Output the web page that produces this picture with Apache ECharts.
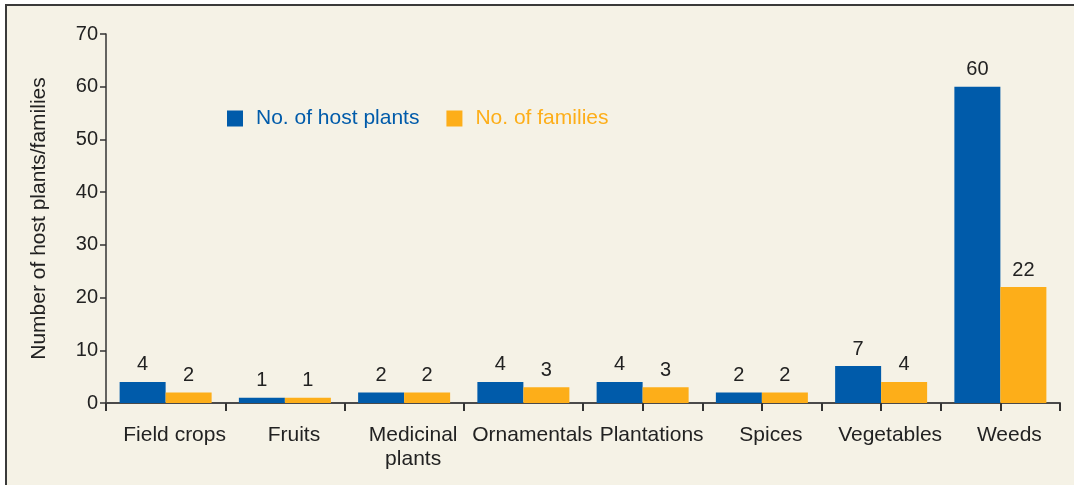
<!DOCTYPE html>
<html>
<head>
<meta charset="utf-8">
<script src="https://cdn.jsdelivr.net/npm/echarts@6/dist/echarts.min.js"></script>
<style>
  html, body { margin: 0; padding: 0; background: #ffffff; }
  #chart {
    position: absolute;
    left: 5px;
    top: 4px;
    width: 1069px;
    height: 481px;
    box-sizing: border-box;
    border-left: 2px solid #3a3a3a;
    border-top: 2px solid #3a3a3a;
  }
</style>
</head>
<body>
<div id="chart"></div>
<script>
const categories = ['Field crops', 'Fruits', 'Medicinal\nplants', 'Ornamentals', 'Plantations', 'Spices', 'Vegetables', 'Weeds']
const hostPlants = [4, 1, 2, 4, 4, 2, 7, 60]
const families = [2, 1, 2, 3, 3, 2, 4, 22]
const seriesNames = ['No. of host plants', 'No. of families']

const BLUE = '#005baa'
const ORANGE = '#fdae19'
const INK = '#222222'
const FONT = '"Liberation Sans", Arial, Helvetica, sans-serif'

const chart = echarts.init(document.getElementById('chart'))

const valueLabel = {
  show: true,
  position: 'top',
  distance: 7,
  color: INK,
  fontSize: 20,
  fontFamily: FONT,
}

const option = {
  backgroundColor: '#f5f2e6',
  animation: false,
  textStyle: { fontFamily: FONT },
  legend: {
    left: 215,
    top: 97,
    itemWidth: 16,
    itemHeight: 16,
    itemGap: 27,
    icon: 'rect',
    textStyle: { fontSize: 21, fontFamily: FONT, padding: [0, 0, 0, 8] },
    data: [
      { name: seriesNames[0], textStyle: { color: BLUE } },
      { name: seriesNames[1], textStyle: { color: ORANGE } },
    ],
  },
  grid: {
    left: 99,
    right: 14,
    top: 28,
    bottom: 82,
  },
  xAxis: [
    {
      type: 'category',
      data: categories,
      axisLine: { lineStyle: { color: '#4a4a4a', width: 2 } },
      axisTick: { show: true, interval: 0, length: 8, lineStyle: { color: '#333', width: 2 } },
      axisLabel: {
        interval: 0,
        color: INK,
        fontSize: 21,
        fontFamily: FONT,
        margin: 20,
        lineHeight: 24,
        padding: [0, 0, 0, 18],
      },
    },
    {
      type: 'category',
      data: categories,
      position: 'bottom',
      axisLine: { show: false },
      axisLabel: { show: false },
      axisTick: {
        show: true,
        alignWithLabel: true,
        interval: (i) => i >= 4,
        length: 8,
        lineStyle: { color: '#333', width: 2 },
      },
    },
  ],
  yAxis: {
    type: 'value',
    min: 0,
    max: 70,
    interval: 10,
    name: 'Number of host plants/families',
    nameLocation: 'middle',
    nameGap: 56,
    nameTextStyle: { color: INK, fontSize: 21, fontFamily: FONT },
    axisLine: { show: true, lineStyle: { color: '#333', width: 1.5 } },
    axisTick: { show: true, length: 6, lineStyle: { color: '#333', width: 1.5 } },
    axisLabel: { color: INK, fontSize: 20, fontFamily: FONT, margin: 8 },
    splitLine: { show: false },
  },
  series: [
    {
      name: seriesNames[0],
      type: 'bar',
      data: hostPlants,
      barWidth: 46,
      barGap: '0%',
      itemStyle: { color: BLUE },
      label: valueLabel,
    },
    {
      name: seriesNames[1],
      type: 'bar',
      data: families,
      barWidth: 46,
      barGap: '0%',
      itemStyle: { color: ORANGE },
      label: valueLabel,
    },
  ],
}

chart.setOption(option)
</script>
</body>
</html>
